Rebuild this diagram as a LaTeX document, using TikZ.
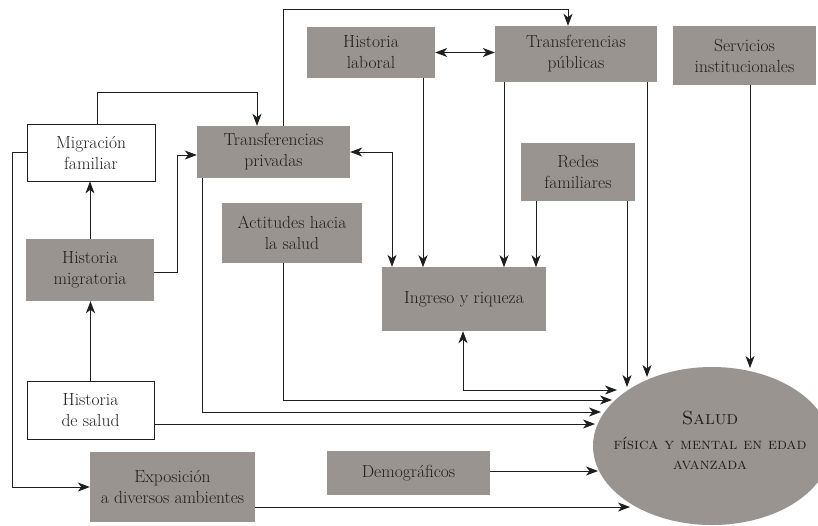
\documentclass[tikz,border=0pt]{standalone}
\usetikzlibrary{arrows.meta,shapes.geometric}
\definecolor{boxgray}{HTML}{9A9490}
\definecolor{ink}{HTML}{1E1E1E}
\begin{document}
\begin{tikzpicture}[x=1pt,y=-1pt,
  box/.style={fill=boxgray, draw=none, align=center, inner sep=0pt,
    font=\fontsize{17.5}{21}\selectfont, text=ink},
  wbox/.style={box, fill=white, draw=ink, line width=0.8pt},
  tip/.tip={Stealth[length=12pt,width=9pt,inset=3.5pt]},
  arr/.style={draw=ink, line width=0.8pt, -tip},
  darr/.style={draw=ink, line width=0.8pt, tip-tip}
]
\useasboundingbox (0,0) rectangle (818,525);

% nodes
\node[box, minimum width=128pt, minimum height=51pt] (hl) at (371,52.5) {Historia\\laboral};
\node[box, minimum width=162pt, minimum height=56pt] (tpu) at (576,54) {Transferencias\\públicas};
\node[box, minimum width=143pt, minimum height=59pt] (si) at (744.5,55.5) {Servicios\\institucionales};
\node[box, minimum width=153pt, minimum height=52pt] (tpr) at (273.5,152) {Transferencias\\privadas};
\node[wbox, minimum width=128pt, minimum height=57pt] (mf) at (91,152.5) {Migración\\familiar};
\node[box, minimum width=128pt, minimum height=62pt] (hm) at (90,270) {Historia\\migratoria};
\node[box, minimum width=140pt, minimum height=60pt] (ac) at (292,233) {Actitudes hacia\\la salud};
\node[box, minimum width=114pt, minimum height=58pt] (rf) at (578,172) {Redes\\familiares};
\node[box, minimum width=164pt, minimum height=64pt] (ir) at (464,299) {Ingreso y riqueza};
\node[wbox, minimum width=127pt, minimum height=58pt] (hs) at (90.5,410) {Historia\\de salud};
\node[box, minimum width=165pt, minimum height=70pt] (ex) at (172.5,487) {Exposición\\a diversos ambientes};
\node[box, minimum width=163pt, minimum height=44pt] (de) at (408.5,473) {Demográficos};
\node[ellipse, fill=boxgray, draw=none, minimum width=238pt, minimum height=158pt, inner sep=0pt] (salud) at (712,446) {};
\node[align=center, text=ink, font=\fontsize{16}{20}\selectfont] (saludtxt) at (710,440)
  {{\fontsize{19}{20}\selectfont\textsc{Salud}}\\[5pt]\textsc{física y mental en edad}\\\textsc{avanzada}};

% arrow ends on the ellipse
\coordinate (srf) at (627,387);
\coordinate (stp) at (647,377);
\coordinate (ssi) at (750,368);
\coordinate (sir) at (617,390);
\coordinate (sac) at (612,400);
\coordinate (stpr) at (601,412);
\coordinate (shs) at (595,424);
\coordinate (sde) at (598,471);
\coordinate (sex) at (630,507);

% connectors
\draw[arr] ([xshift=6pt]mf.north) -- ++(0,-31) -| ([xshift=-16.5pt]tpr.north);
\draw[arr] (hm.north) -- (hm.north |- mf.south);
\draw[arr] (hs.north) -- (hs.north |- hm.south);
\draw[arr] ([yshift=-2pt]hm.east) -- ++(23,0) |- ([yshift=-3pt]tpr.west);
\draw[arr] (mf.west) -- ++(-14,0) |- (ex.west);
\draw[arr] ([xshift=9.5pt]tpr.north) -- ++(0,-116) -| ([xshift=-8pt]tpu.north);
\draw[darr] (hl.east) -- (hl.east -| tpu.west);
\draw[darr] (tpr.east) -| ([xshift=-72pt]ir.north);
\draw[arr] ([xshift=52pt]hl.south) -- ++(0,189);
\draw[arr] ([xshift=-72pt]tpu.south) -- ++(0,185);
\draw[arr] ([xshift=-42pt]rf.south) -- ++(0,66);
\draw[arr] (rf.south -| srf) -- (srf);
\draw[arr] (tpu.south -| stp) -- (stp);
\draw[arr] (si.south -| ssi) -- (ssi);
\draw[darr] ([xshift=-1pt]ir.south) |- (sir);
\draw[arr] ([xshift=-9pt]ac.south) |- (sac);
\draw[arr] ([xshift=-71.5pt]tpr.south) |- (stpr);
\draw[arr] (hs.east |- shs) -- (shs);
\draw[arr] (de.east |- sde) -- (sde);
\draw[arr] (ex.east |- sex) -- (sex);
\end{tikzpicture}
\end{document}
